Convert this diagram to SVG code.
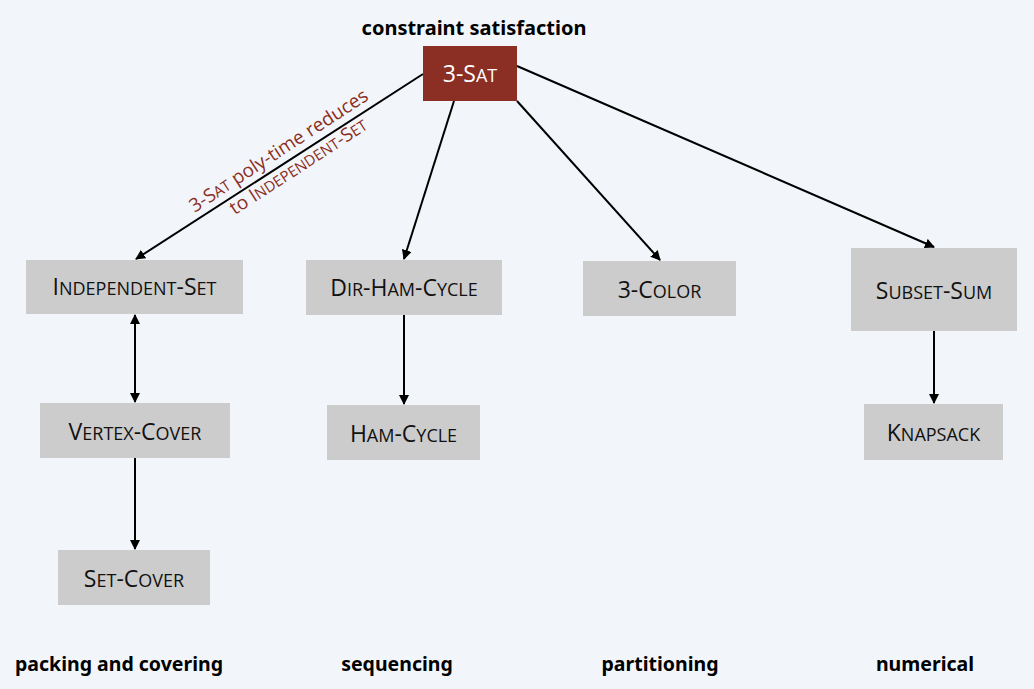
<svg xmlns="http://www.w3.org/2000/svg" width="1034" height="689" viewBox="0 0 1034 689">
<style>
.bg{fill:#F2F6FA}
.box{fill:#CCCCCC}
.red{fill:#8B2E24}
.lbl{font-family:"Open Sans","Noto Sans",sans-serif;font-size:23px;fill:#111;text-anchor:middle}
.sc{font-size:18px}
.cat{font-family:"Noto Sans","Open Sans",sans-serif;font-weight:bold;font-size:19.5px;fill:#000;text-anchor:middle}
.note{font-family:"Open Sans","Noto Sans",sans-serif;font-size:19px;fill:#8B2E24;text-anchor:middle}
.nsc{font-size:15px}
.edge{stroke:#000;stroke-width:2;fill:none}
</style>
<defs>
<marker id="ah" viewBox="0 0 10 10" refX="9" refY="5" markerWidth="5" markerHeight="5" orient="auto-start-reverse">
<path d="M0,0 L10,5 L0,10 z" fill="#000"/>
</marker>
</defs>
<rect class="bg" x="0" y="0" width="1034" height="689"/>
<text class="cat" x="474" y="35" style="font-size:20px">constraint satisfaction</text>
<g id="connectors">
<line class="edge" x1="423" y1="74" x2="136" y2="259" marker-end="url(#ah)"/>
<line class="edge" x1="454" y1="101" x2="404" y2="259" marker-end="url(#ah)"/>
<line class="edge" x1="517" y1="101" x2="660" y2="260" marker-end="url(#ah)"/>
<line class="edge" x1="517" y1="66" x2="934" y2="247" marker-end="url(#ah)"/>
<line class="edge" x1="135" y1="315" x2="135" y2="402" marker-start="url(#ah)" marker-end="url(#ah)"/>
<line class="edge" x1="135" y1="458" x2="135" y2="549" marker-end="url(#ah)"/>
<line class="edge" x1="404" y1="315" x2="404" y2="404" marker-end="url(#ah)"/>
<line class="edge" x1="934" y1="331" x2="934" y2="403" marker-end="url(#ah)"/>
</g>
<g id="edge-label" transform="translate(282,156) rotate(-33)">
<text class="note" x="0" y="0">3-S<tspan class="nsc">AT</tspan> poly-time reduces</text>
<text class="note" x="8" y="24">to I<tspan class="nsc">NDEPENDENT</tspan>-S<tspan class="nsc">ET</tspan></text>
</g>
<g id="n-3sat">
<rect class="red" x="423" y="46" width="94" height="55"/>
<text class="lbl" x="470" y="82" style="fill:#fff">3-S<tspan class="sc">AT</tspan></text>
</g>
<g id="n-indset">
<rect class="box" x="26" y="260" width="217" height="54"/>
<text class="lbl" x="134.5" y="295">I<tspan class="sc">NDEPENDENT</tspan>-S<tspan class="sc">ET</tspan></text>
</g>
<g id="n-dirham">
<rect class="box" x="306" y="260" width="196" height="55"/>
<text class="lbl" x="404" y="296">D<tspan class="sc">IR</tspan>-H<tspan class="sc">AM</tspan>-C<tspan class="sc">YCLE</tspan></text>
</g>
<g id="n-3color">
<rect class="box" x="583" y="261" width="153" height="55"/>
<text class="lbl" x="659.5" y="298">3-C<tspan class="sc">OLOR</tspan></text>
</g>
<g id="n-subsetsum">
<rect class="box" x="851" y="248" width="166" height="83"/>
<text class="lbl" x="934" y="299">S<tspan class="sc">UBSET</tspan>-S<tspan class="sc">UM</tspan></text>
</g>
<g id="n-vertexcover">
<rect class="box" x="40" y="403" width="190" height="55"/>
<text class="lbl" x="135" y="440">V<tspan class="sc">ERTEX</tspan>-C<tspan class="sc">OVER</tspan></text>
</g>
<g id="n-hamcycle">
<rect class="box" x="327" y="405" width="153" height="55"/>
<text class="lbl" x="403.5" y="442">H<tspan class="sc">AM</tspan>-C<tspan class="sc">YCLE</tspan></text>
</g>
<g id="n-knapsack">
<rect class="box" x="864" y="404" width="139" height="56"/>
<text class="lbl" x="933.5" y="441">K<tspan class="sc">NAPSACK</tspan></text>
</g>
<g id="n-setcover">
<rect class="box" x="58" y="550" width="152" height="55"/>
<text class="lbl" x="134" y="587">S<tspan class="sc">ET</tspan>-C<tspan class="sc">OVER</tspan></text>
</g>
<text class="cat" x="119" y="671">packing and covering</text>
<text class="cat" x="397" y="671">sequencing</text>
<text class="cat" x="660" y="671">partitioning</text>
<text class="cat" x="925" y="671">numerical</text>
</svg>
